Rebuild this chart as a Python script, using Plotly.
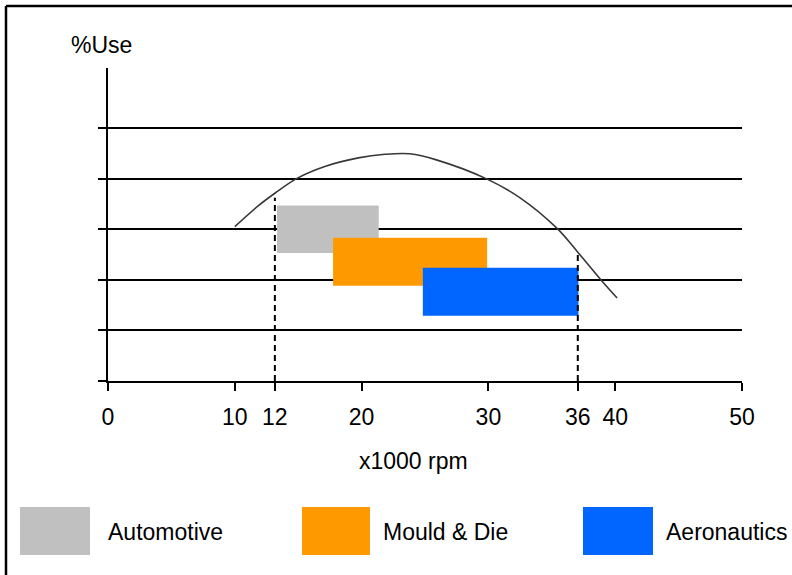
import plotly.graph_objects as go

# ---- data ----
categories = ["Automotive", "Mould & Die", "Aeronautics"]
range_start = [13.33, 17.75, 24.83]      # x1000 rpm
range_end = [21.35, 29.90, 37.10]
use_low = [2.53, 1.88, 1.29]             # %Use band (bottom)
use_high = [3.47, 2.83, 2.24]            # %Use band (top)
bar_colors = ["#C0C0C0", "#FF9900", "#0066FF"]

curve_rpm = [10.0, 11.84, 13.16, 14.87, 17.1, 19.74, 21.84, 23.8, 25.9, 29.9, 32.5, 35.4, 37.1, 39.07, 40.15]
curve_use = [3.05, 3.46, 3.71, 4.0, 4.24, 4.41, 4.48, 4.49, 4.37, 3.99, 3.62, 3.02, 2.53, 1.94, 1.64]

tick_pos = [0, 10, 13.16, 20, 30, 37.05, 40, 50]
tick_text = ["0", "10", "12", "20", "30", "36", "40", "50"]

marker_rpm = [13.16, 37.05]    # dashed reference lines (labelled 12 and 36)
marker_top = [3.62, 2.51]

grid_levels = [0, 1, 2, 3, 4, 5]

# ---- layout geometry (pixels) ----
W, H = 792, 575
L, R, T, B = 108, 50, 68, 194
PW, PH = W - L - R, H - T - B


def px(x):
    return (x - L) / PW


def py(y):
    return (H - B - y) / PH


FONT = "Liberation Sans"
FS = 23

fig = go.Figure()

for name, s, e, lo, hi, c in zip(categories, range_start, range_end, use_low, use_high, bar_colors):
    fig.add_trace(go.Bar(
        orientation="h", y=[(lo + hi) / 2], x=[e - s], base=[s], width=[hi - lo],
        marker=dict(color=c, line=dict(width=0)), name=name, showlegend=False,
    ))

fig.add_trace(go.Scatter(
    x=curve_rpm, y=curve_use, mode="lines", line=dict(color="#383838", width=1.6, shape="spline", smoothing=1.0),
    showlegend=False, hoverinfo="skip",
))

for xr, yt in zip(marker_rpm, marker_top):
    fig.add_trace(go.Scatter(
        x=[xr, xr], y=[0, yt], mode="lines", line=dict(color="black", width=2, dash="6px,4px"),
        showlegend=False, hoverinfo="skip",
    ))

fig.update_layout(
    width=W, height=H, margin=dict(l=L, r=R, t=T, b=B, pad=0),
    paper_bgcolor="white", plot_bgcolor="white",
    barmode="overlay", showlegend=False,
    font=dict(family=FONT, size=FS, color="black"),
)
fig.update_xaxes(
    range=[0, 50], tickvals=tick_pos, ticktext=tick_text, ticks="outside", ticklen=8, tickwidth=2,
    tickcolor="black", showline=True, linecolor="black", linewidth=2, showgrid=False, zeroline=False,
    tickfont=dict(family=FONT, size=FS, color="black"), ticklabelstandoff=6,
)
fig.update_yaxes(
    range=[0, PH / 50.6], tickvals=grid_levels, showticklabels=False, ticks="outside", ticklen=8, tickwidth=2,
    tickcolor="black", showline=True, linecolor="black", linewidth=2, showgrid=True, gridcolor="black",
    gridwidth=2, zeroline=False,
)

ann = [
    dict(text="%Use", x=px(69), y=py(45), xanchor="left", yanchor="middle"),
    dict(text="x1000 rpm", x=px(413), y=py(461), xanchor="center", yanchor="middle"),
]
legend_boxes = [(20, 90, 106), (302, 370, 381), (583, 653, 664)]
shapes = []
for (x0, x1, tx), name, c in zip(legend_boxes, categories, bar_colors):
    shapes.append(dict(type="rect", xref="paper", yref="paper", x0=px(x0), x1=px(x1), y0=py(555), y1=py(507),
                       fillcolor=c, line=dict(width=0)))
    ann.append(dict(text=name, x=px(tx), y=py(532), xanchor="left", yanchor="middle"))

# frame lines (top and left)
shapes.append(dict(type="line", xref="paper", yref="paper", x0=px(6), x1=px(800), y0=py(6), y1=py(6),
                   line=dict(color="black", width=2.5)))
shapes.append(dict(type="line", xref="paper", yref="paper", x0=px(6), x1=px(6), y0=py(6), y1=py(580),
                   line=dict(color="black", width=2.5)))

for a in ann:
    a.update(xref="paper", yref="paper", showarrow=False, font=dict(family=FONT, size=FS, color="black"))
fig.update_layout(annotations=ann, shapes=shapes)

fig.write_html("out.html", config={"displayModeBar": False},
               post_script="document.body.style.margin='0px';document.body.style.padding='0px';")
